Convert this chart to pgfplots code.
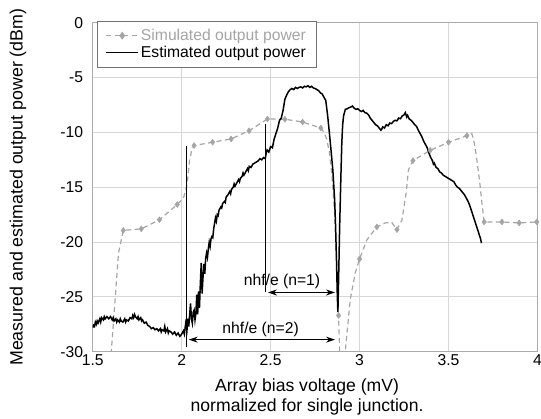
\documentclass[border=0pt]{standalone}
\usepackage{pgfplots}
\usepackage{pgfplotstable}
\pgfplotsset{compat=1.18}
\usepackage{fontspec}
\setmainfont{Liberation Sans}
\usetikzlibrary{arrows.meta,calc}
\definecolor{simgray}{RGB}{165,165,165}
\definecolor{gridgray}{RGB}{215,215,215}
\definecolor{framegray}{RGB}{170,170,170}

\pgfplotstableread{
x y
1.600 -31
1.645 -21.0
1.672 -18.94
1.773 -18.8
1.875 -17.97
1.975 -16.58
2.010 -16.0
2.030 -14.8
2.045 -12.5
2.057 -11.6
2.070 -11.2
2.174 -10.9
2.278 -10.6
2.379 -9.85
2.482 -8.78
2.580 -8.80
2.680 -9.06
2.782 -9.60
2.800 -10.0
2.815 -10.6
2.830 -11.8
2.845 -14.0
2.860 -17.5
2.872 -22.2
2.882 -26.7
2.890 -31
2.915 -31
2.925 -29.0
2.948 -25.2
2.976 -22.8
3.000 -21.54
3.041 -19.8
3.097 -18.62
3.144 -18.26
3.180 -18.2
3.210 -18.87
3.238 -18.0
3.262 -15.5
3.275 -13.4
3.300 -12.58
3.397 -11.64
3.500 -10.91
3.603 -10.30
3.631 -10.12
3.645 -11.0
3.660 -12.6
3.675 -14.5
3.688 -16.5
3.700 -18.17
3.800 -18.17
3.897 -18.26
3.996 -18.17
}\simline

\pgfplotstableread{
x y
1.672 -18.94
1.773 -18.8
1.875 -17.97
1.975 -16.58
2.070 -11.2
2.174 -10.9
2.278 -10.6
2.379 -9.85
2.482 -8.78
2.580 -8.80
2.680 -9.06
2.782 -9.60
2.882 -26.7
3.000 -21.54
3.097 -18.62
3.210 -18.87
3.300 -12.58
3.397 -11.64
3.500 -10.91
3.603 -10.30
3.700 -18.17
3.800 -18.17
3.897 -18.26
3.996 -18.17
}\simmarks

\pgfplotstableread{
x y
1.500 -27.8
1.505 -27.6
1.510 -27.7
1.515 -27.3
1.520 -27.5
1.525 -27.2
1.530 -27.4
1.540 -27.0
1.545 -27.3
1.550 -26.9
1.560 -27.1
1.565 -26.8
1.570 -27.0
1.580 -26.8
1.590 -27.0
1.600 -26.8
1.610 -27.1
1.615 -26.9
1.620 -27.2
1.630 -27.0
1.635 -27.3
1.640 -27.1
1.650 -27.3
1.655 -27.0
1.660 -27.2
1.670 -27.3
1.680 -27.0
1.685 -27.3
1.690 -27.1
1.700 -27.2
1.710 -26.9
1.720 -27.0
1.725 -26.7
1.730 -26.9
1.735 -26.6
1.740 -26.8
1.750 -27.0
1.755 -26.8
1.760 -27.1
1.770 -26.9
1.775 -27.2
1.780 -27.1
1.790 -27.4
1.800 -27.3
1.810 -27.6
1.820 -27.7
1.830 -27.9
1.840 -27.8
1.850 -28.0
1.860 -27.9
1.870 -28.1
1.880 -27.9
1.885 -28.2
1.890 -28.0
1.900 -28.1
1.905 -27.7
1.910 -28.2
1.920 -27.9
1.925 -28.3
1.930 -28.1
1.940 -28.2
1.950 -28.4
1.960 -28.2
1.970 -28.5
1.980 -28.3
1.990 -28.6
2.000 -28.4
2.010 -28.1
2.015 -28.4
2.023 -27.4
2.030 -28.0
2.035 -27.0
2.040 -27.7
2.045 -26.6
2.050 -25.6
2.055 -27.0
2.060 -27.4
2.065 -26.4
2.070 -26.2
2.075 -27.1
2.080 -26.5
2.085 -24.8
2.090 -26.6
2.095 -24.5
2.100 -26.0
2.105 -23.8
2.110 -21.9
2.115 -24.7
2.120 -23.2
2.125 -22.0
2.130 -22.9
2.135 -21.5
2.140 -21.0
2.145 -21.4
2.150 -20.6
2.155 -20.0
2.160 -20.4
2.165 -19.7
2.170 -19.5
2.175 -19.6
2.180 -18.8
2.185 -18.3
2.190 -17.8
2.195 -18.1
2.200 -17.5
2.205 -17.6
2.210 -17.1
2.220 -16.8
2.225 -16.9
2.230 -16.5
2.240 -16.3
2.245 -16.4
2.250 -15.9
2.260 -15.7
2.270 -15.4
2.275 -15.6
2.280 -15.2
2.290 -15.0
2.295 -14.7
2.300 -14.9
2.310 -14.6
2.320 -14.3
2.325 -14.5
2.330 -14.2
2.340 -14.0
2.345 -13.7
2.350 -13.9
2.360 -13.6
2.370 -13.3
2.375 -13.5
2.380 -13.1
2.390 -13.2
2.400 -12.9
2.410 -12.8
2.420 -12.7
2.430 -12.6
2.440 -12.4
2.450 -12.5
2.460 -12.3
2.470 -12.4
2.475 -11.9
2.480 -11.6
2.490 -11.8
2.500 -11.3
2.510 -11.4
2.520 -10.6
2.530 -10.1
2.540 -9.6
2.550 -8.9
2.560 -8.7
2.570 -8.0
2.575 -7.5
2.580 -7.0
2.590 -6.6
2.600 -6.3
2.610 -6.1
2.620 -6.0
2.630 -6.1
2.640 -5.9
2.650 -6.0
2.660 -5.9
2.670 -5.85
2.680 -5.95
2.690 -5.8
2.700 -5.85
2.710 -5.75
2.720 -5.9
2.730 -5.8
2.740 -5.95
2.750 -6.0
2.760 -6.1
2.770 -6.2
2.780 -6.4
2.790 -6.5
2.800 -6.8
2.810 -7.1
2.820 -8.4
2.830 -10.0
2.840 -11.7
2.850 -13.5
2.860 -16.2
2.865 -18.5
2.870 -21.5
2.875 -25.0
2.878 -26.4
2.882 -23.5
2.888 -18.6
2.895 -14.0
2.900 -11.0
2.905 -9.3
2.910 -8.5
2.920 -7.9
2.930 -7.85
2.940 -7.75
2.950 -7.7
2.960 -7.6
2.970 -7.8
2.980 -7.9
2.990 -7.85
3.000 -8.0
3.010 -8.1
3.020 -8.0
3.030 -8.2
3.040 -8.25
3.050 -8.4
3.060 -8.7
3.070 -8.9
3.080 -9.1
3.090 -9.3
3.100 -9.4
3.110 -9.6
3.120 -9.8
3.125 -9.7
3.130 -9.5
3.140 -9.6
3.150 -9.3
3.160 -9.4
3.170 -9.15
3.180 -9.2
3.190 -9.0
3.200 -8.9
3.210 -8.95
3.220 -8.7
3.230 -8.75
3.240 -8.5
3.250 -8.4
3.257 -8.2
3.265 -8.6
3.270 -8.45
3.280 -8.8
3.290 -8.9
3.300 -9.1
3.310 -9.3
3.320 -9.45
3.330 -9.8
3.340 -10.1
3.350 -10.4
3.360 -10.8
3.370 -11.1
3.380 -11.4
3.390 -11.9
3.400 -12.3
3.410 -12.6
3.415 -12.9
3.420 -12.8
3.430 -13.2
3.440 -13.3
3.450 -13.6
3.460 -13.7
3.470 -13.9
3.480 -14.0
3.490 -14.1
3.500 -14.2
3.510 -14.3
3.520 -14.4
3.530 -14.5
3.540 -14.8
3.550 -15.0
3.560 -15.1
3.570 -15.3
3.580 -15.5
3.590 -15.7
3.600 -16.0
3.610 -16.3
3.620 -16.7
3.630 -17.2
3.640 -17.7
3.650 -18.2
3.660 -18.7
3.670 -19.2
3.680 -19.7
3.685 -20.1
}\est

\begin{document}
\begin{tikzpicture}
\begin{axis}[name=ax,
  scale only axis, width=444.8pt, height=329pt,
  xmin=1.5, xmax=4, ymin=-30, ymax=0,
  xtick={1.5,2,2.5,3,3.5,4}, ytick={-30,-25,-20,-15,-10,-5,0},
  grid=major, major grid style={gridgray, line width=0.8pt},
  axis line style={framegray, line width=0.8pt},
  major tick length=0pt,
  font=\fontsize{15.7}{17}\selectfont,
  tick label style={font=\fontsize{15.7}{17}\selectfont},
  /pgf/number format/assume math mode=true,
  yticklabel style={xshift=-6pt},
  xticklabel style={yshift=1pt},
  xlabel={Array bias voltage (mV)\\normalized for single junction.},
  xlabel style={align=center, at={(axis description cs:0.482,0)}, anchor=north, yshift=-24pt, font=\fontsize{17.6}{19.5}\selectfont},
  ylabel={Measured and estimated output power (dBm)},
  ylabel style={at={(axis description cs:-0.168,0.5)}, anchor=center, font=\fontsize{17.8}{19}\selectfont},
  legend image code/.code={\draw[mark repeat=2,mark phase=2,#1] plot coordinates {(0pt,0pt) (16pt,0pt) (32pt,0pt)};},
  legend style={at={(axis description cs:0.0103,1.005)}, anchor=north west, draw=black!55, fill=white, inner xsep=8pt, inner ysep=6pt, row sep=0pt, font=\fontsize{15.7}{16}\selectfont},
  legend cell align=left,
]
\addlegendimage{simgray, line width=1.2pt, dash pattern=on 5pt off 3.5pt, mark=diamond*, mark size=3pt, mark options={solid, fill=simgray, draw=simgray}}
\addlegendentry{\textcolor{simgray}{Simulated output power}}
\addlegendimage{black, line width=1.5pt}
\addlegendentry{Estimated output power}

\addplot[forget plot, simgray, line width=1.2pt, dash pattern=on 5pt off 3.5pt] table[x=x,y=y] {\simline};
\addplot[forget plot, only marks, mark=diamond*, mark size=3pt, mark options={fill=simgray, draw=simgray}] table[x=x,y=y] {\simmarks};
\addplot[forget plot, black, line width=1.5pt] table[x=x,y=y] {\est};

\addplot[forget plot, black, line width=0.6pt] coordinates {(2.027,-29.6) (2.027,-11.2)};
\addplot[forget plot, black, line width=0.6pt] coordinates {(2.472,-24.55) (2.472,-9.23)};
\addplot[forget plot, black, line width=1.1pt, {Stealth[length=9pt,width=6pt]}-{Stealth[length=9pt,width=6pt]}] coordinates {(2.485,-24.6) (2.862,-24.6)};
\addplot[forget plot, black, line width=1.1pt, {Stealth[length=9pt,width=6pt]}-{Stealth[length=9pt,width=6pt]}] coordinates {(2.040,-28.9) (2.862,-28.9)};
\node at (axis cs:2.564,-23.6) {nhf/e (n=1)};
\node at (axis cs:2.444,-27.95) {nhf/e (n=2)};
\end{axis}
\pgfresetboundingbox
\path[use as bounding box] ($(ax.south west)+(-92.7pt,-67.3pt)$) rectangle ($(ax.north east)+(3.5pt,22.7pt)$);
\end{tikzpicture}
\end{document}
